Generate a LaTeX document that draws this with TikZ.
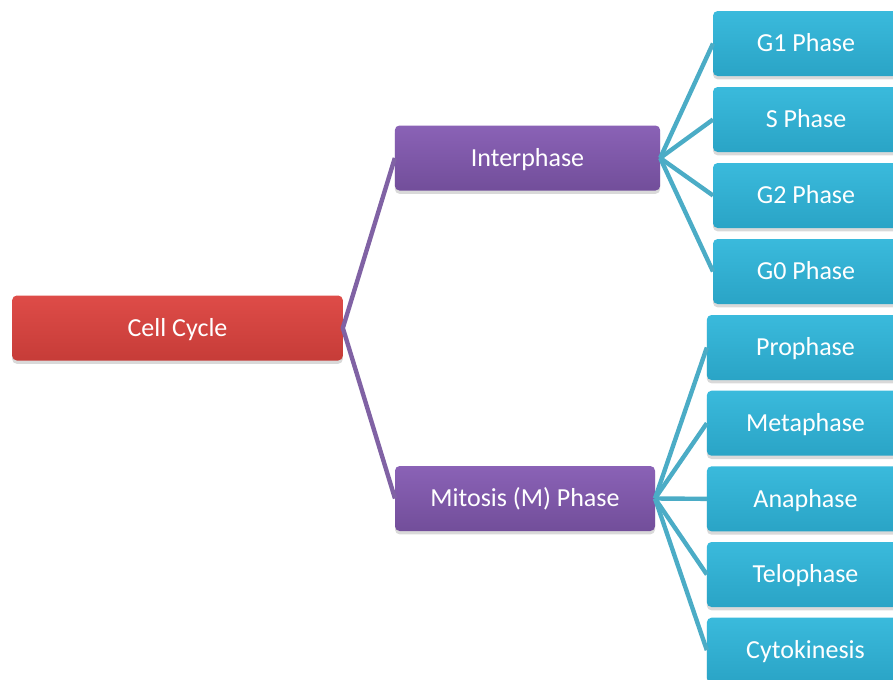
\documentclass[tikz,border=0pt]{standalone}
\usepackage{fontspec}
\setmainfont{Carlito}
\usepackage{tikz}
\usetikzlibrary{positioning, shadows}

\definecolor{cycletop}{RGB}{222,76,72}
\definecolor{cyclebot}{RGB}{198,60,56}
\definecolor{phasetop}{RGB}{138,98,182}
\definecolor{phasebot}{RGB}{114,78,154}
\definecolor{steptop}{RGB}{58,186,220}
\definecolor{stepbot}{RGB}{42,164,198}
\definecolor{purpleline}{RGB}{128,98,164}
\definecolor{cyanline}{RGB}{75,172,198}

\tikzset{
  box/.style = {rounded corners=3.5pt, outer sep=0pt, inner sep=0pt,
    text=white, font=\fontsize{19.5}{23}\selectfont,
    text height=15.5pt, text depth=3pt,
    minimum height=48.75pt,
    drop shadow={shadow xshift=0pt, shadow yshift=-2.5pt, opacity=0.3}},
  cyclebox/.style = {box, top color=cycletop, bottom color=cyclebot,
    minimum width=248pt},
  phasebox/.style = {box, top color=phasetop, bottom color=phasebot},
  stepbox/.style = {box, top color=steptop, bottom color=stepbot},
  upline/.style = {draw=purpleline, line width=3.3pt},
  downline/.style = {draw=cyanline, line width=3.3pt}
}

\begin{document}
\begin{tikzpicture}[x=0.75pt, y=-0.75pt]
  \useasboundingbox (0,0) rectangle (893,679);

  \node[cyclebox] (cycle) at (177.5,328) {Cell Cycle};
  \node[phasebox, minimum width=199pt] (inter) at (527.5,158) {Interphase};
  \node[phasebox, minimum width=195pt] (mitosis) at (525,498.5) {Mitosis (M) Phase};

  \node[stepbox, minimum width=139.5pt] (g1) at (806,43.5) {G1 Phase};
  \node[stepbox, minimum width=139.5pt, below = 8.25pt of g1] (s) {S Phase};
  \node[stepbox, minimum width=139.5pt, below = 8.25pt of s] (g2) {G2 Phase};
  \node[stepbox, minimum width=139.5pt, below = 8.25pt of g2] (g0) {G0 Phase};

  \node[stepbox, minimum width=148pt] (pro) at (805.5,347.5) {Prophase};
  \node[stepbox, minimum width=148pt, below = 8pt of pro] (meta) {Metaphase};
  \node[stepbox, minimum width=148pt, below = 8pt of meta] (ana) {Anaphase};
  \node[stepbox, minimum width=148pt, below = 8pt of ana] (telo) {Telophase};
  \node[stepbox, minimum width=148pt, below = 8pt of telo] (cyto) {Cytokinesis};

  \draw[upline] (inter.west) -- (cycle.east) -- (mitosis.west);

  \draw[downline] (inter.east) -- (g1.west);
  \draw[downline] (inter.east) -- (s.west);
  \draw[downline] (inter.east) -- (g2.west);
  \draw[downline] (inter.east) -- (g0.west);

  \draw[downline] (mitosis.east) -- (pro.west);
  \draw[downline] (mitosis.east) -- (meta.west);
  \draw[downline] (mitosis.east) -- (ana.west);
  \draw[downline] (mitosis.east) -- (telo.west);
  \draw[downline] (mitosis.east) -- (cyto.west);
\end{tikzpicture}
\end{document}
